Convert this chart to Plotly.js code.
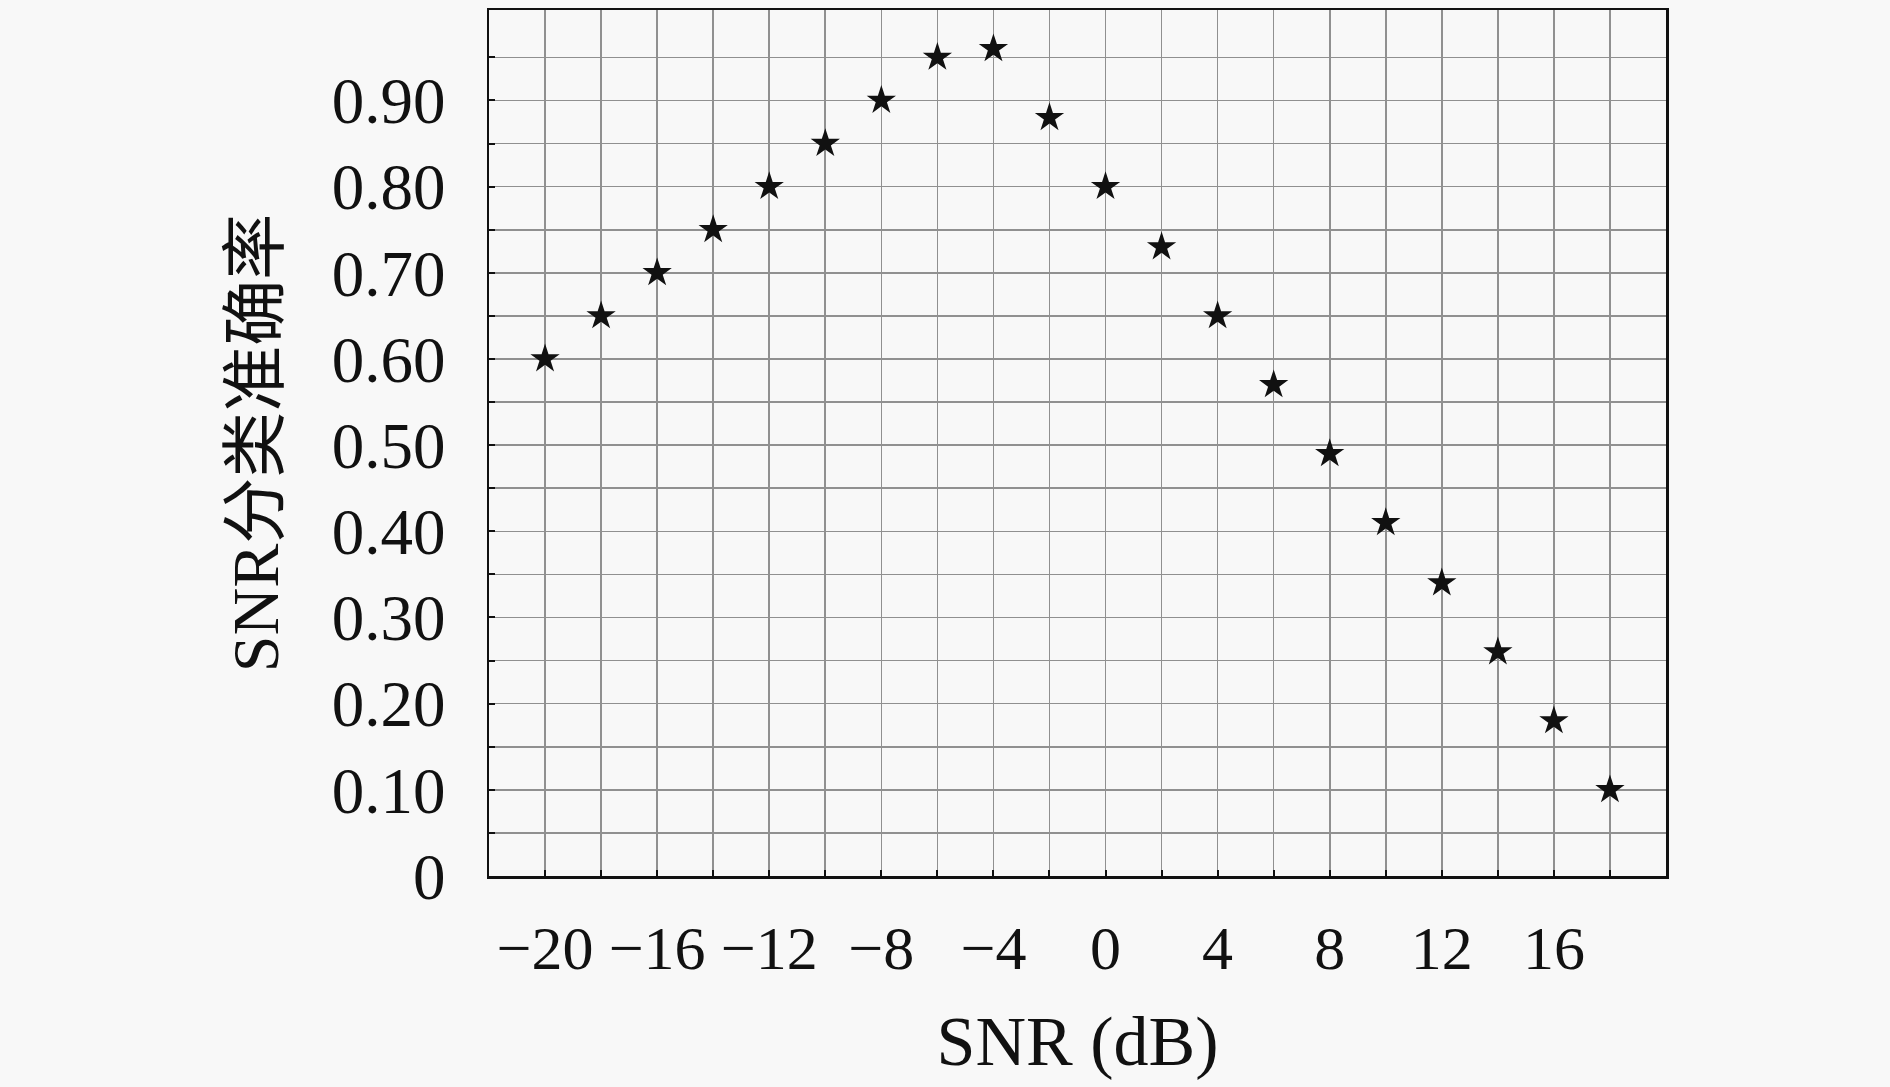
<!DOCTYPE html>
<html>
<head>
<meta charset="utf-8">
<script src="https://cdn.plot.ly/plotly-3.0.1.min.js"></script>
<style>
  html, body { margin: 0; padding: 0; background: #f8f8f8; }
  #chart { width: 1890px; height: 1087px; }
</style>
</head>
<body>
<div id="chart"></div>
<script>
// SNR values (dB) and classification accuracy
const snrDb = [-20, -18, -16, -14, -12, -10, -8, -6, -4, -2, 0, 2, 4, 6, 8, 10, 12, 14, 16, 18];
const accuracy = [0.60, 0.65, 0.70, 0.75, 0.80, 0.85, 0.90, 0.95, 0.96, 0.88, 0.80, 0.73, 0.65, 0.57, 0.49, 0.41, 0.34, 0.26, 0.18, 0.10];

// x grid every 2 dB, labels every 4 dB
const xTickVals = [-20, -18, -16, -14, -12, -10, -8, -6, -4, -2, 0, 2, 4, 6, 8, 10, 12, 14, 16, 18];
const xTickText = ['\u221220', '', '\u221216', '', '\u221212', '', '\u22128', '', '\u22124', '', '0', '', '4', '', '8', '', '12', '', '16', ''];

// y grid every 0.05, labels every 0.10
const yTickVals = [0, 0.05, 0.10, 0.15, 0.20, 0.25, 0.30, 0.35, 0.40, 0.45, 0.50, 0.55, 0.60, 0.65, 0.70, 0.75, 0.80, 0.85, 0.90, 0.95];
const yTickText = ['0', '', '0.10', '', '0.20', '', '0.30', '', '0.40', '', '0.50', '', '0.60', '', '0.70', '', '0.80', '', '0.90', ''];

const fontFamily = '"Liberation Serif", "Noto Sans CJK SC", serif';

const trace = {
  x: snrDb,
  y: accuracy,
  type: 'scatter',
  mode: 'markers',
  marker: { symbol: 'star', size: 22, color: '#111111', line: { width: 0 } },
  showlegend: false,
  cliponaxis: false
};

const axisCommon = {
  showline: true,
  linecolor: '#111111',
  linewidth: 2.5,
  mirror: true,
  showgrid: true,
  gridcolor: '#909090',
  gridwidth: 1.6,
  zeroline: false,
  ticks: 'inside',
  ticklen: 6,
  tickwidth: 2,
  tickcolor: '#111111',
  tickmode: 'array'
};

const layout = {
  width: 1890,
  height: 1087,
  paper_bgcolor: '#f8f8f8',
  plot_bgcolor: '#f8f8f8',
  margin: { l: 489, r: 224, t: 10, b: 211 },
  xaxis: Object.assign({}, axisCommon, {
    range: [-22, 20],
    tickvals: xTickVals,
    ticktext: xTickText,
    tickfont: { family: fontFamily, size: 62, color: '#111111' },
    ticklabelstandoff: 16,
    title: { text: 'SNR (dB)', font: { family: fontFamily, size: 70, color: '#111111' }, standoff: 35 }
  }),
  yaxis: Object.assign({}, axisCommon, {
    range: [0, 1.005],
    tickvals: yTickVals,
    ticktext: yTickText,
    tickfont: { family: fontFamily, size: 65, color: '#111111' },
    ticklabelstandoff: 28,
    title: { text: 'SNR分类准确率', font: { family: fontFamily, size: 66, color: '#111111' }, standoff: 32 }
  })
};

Plotly.newPlot('chart', [trace], layout, { displayModeBar: false, staticPlot: true });
</script>
</body>
</html>
